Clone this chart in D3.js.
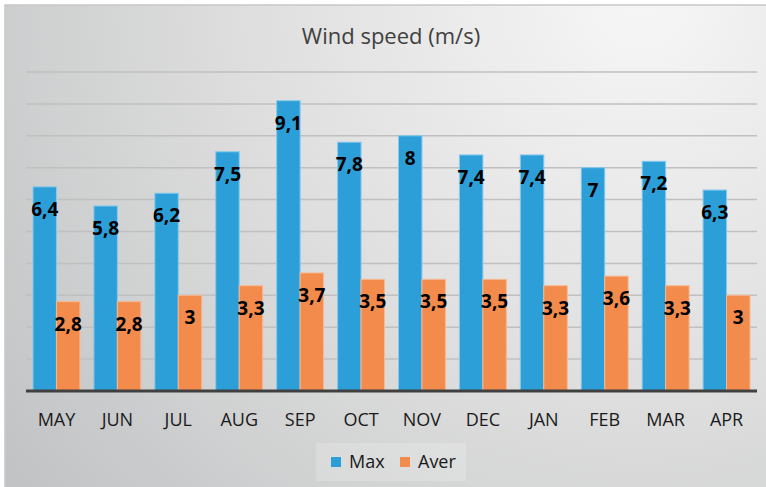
<!DOCTYPE html>
<html>
<head>
<meta charset="utf-8">
<script src="https://cdn.jsdelivr.net/npm/d3@7"></script>
<style>
    body { margin: 0; background: #ffffff; }
    text { font-family: "Open Sans", "DejaVu Sans", sans-serif; }
</style>
</head>
<body>
<div id="chart"></div>
<script>
const months = ["MAY", "JUN", "JUL", "AUG", "SEP", "OCT", "NOV", "DEC", "JAN", "FEB", "MAR", "APR"];
const maxValues = [6.4, 5.8, 6.2, 7.5, 9.1, 7.8, 8, 7.4, 7.4, 7, 7.2, 6.3];
const averValues = [2.8, 2.8, 3, 3.3, 3.7, 3.5, 3.5, 3.5, 3.3, 3.6, 3.3, 3];
const seriesNames = ["Max", "Aver"];
const gridTicks = [1, 2, 3, 4, 5, 6, 7, 8, 9, 10];

function drawChart() {
    const div_id = "#chart";

    //Width and height
    let width = 766;
    let height = 487;

    const colors = { "Max": "#2c9fd9", "Aver": "#f28b4b" };
    const borders = { "Max": "#86c9ec", "Aver": "#f7b892" };

    let fmt = function (v) {
        return String(v).replace(".", ",");
    }

    const svg = d3.select(div_id)
        .append("svg")
        .attr("width", width)
        .attr("height", height);

    // background gradient
    const defs = svg.append("defs");
    const grad = defs.append("radialGradient")
        .attr("id", "bg")
        .attr("gradientUnits", "userSpaceOnUse")
        .attr("cx", 640).attr("cy", 0).attr("r", 820);
    grad.append("stop").attr("offset", "0%").attr("stop-color", "#f6f6f6");
    grad.append("stop").attr("offset", "45%").attr("stop-color", "#e0e0e0");
    grad.append("stop").attr("offset", "100%").attr("stop-color", "#bfc1c2");

    svg.append("rect")
        .attr("x", 5).attr("y", 5)
        .attr("width", width).attr("height", height)
        .attr("fill", "url(#bg)")
        .attr("stroke", "#c8c8c8")
        .attr("stroke-width", 1.5);

    const x = d3.scaleBand()
        .domain(months)
        .range([26, 757])
        .paddingInner(0.23)
        .paddingOuter(0.115);

    const xSub = d3.scaleBand()
        .domain(seriesNames)
        .range([0, x.bandwidth()]);

    const y = d3.scaleLinear()
        .domain([0, 10])
        .range([391, 72]);

    // gridlines
    svg.append("g")
        .selectAll("line")
        .data(gridTicks)
        .join("line")
        .attr("x1", 26).attr("x2", 757)
        .attr("y1", d => y(d)).attr("y2", d => y(d))
        .attr("stroke", "#c0c0c0")
        .attr("stroke-width", 1.5);

    // title
    svg.append("text")
        .attr("x", 391)
        .attr("y", 44)
        .attr("text-anchor", "middle")
        .attr("font-size", 22)
        .attr("fill", "#404040")
        .text("Wind speed (m/s)");

    const rows = months.map((m, i) => ({
        month: m,
        values: [
            { key: "Max", value: maxValues[i] },
            { key: "Aver", value: averValues[i] }
        ]
    }));

    const groups = svg.append("g")
        .selectAll("g")
        .data(rows)
        .join("g")
        .attr("transform", d => "translate(" + x(d.month) + ",0)");

    groups.selectAll("rect")
        .data(d => d.values)
        .join("rect")
        .attr("x", d => xSub(d.key))
        .attr("y", d => y(d.value))
        .attr("width", xSub.bandwidth())
        .attr("height", d => y(0) - y(d.value))
        .attr("fill", d => colors[d.key])
        .attr("stroke", d => borders[d.key])
        .attr("stroke-width", 1);

    groups.selectAll("text")
        .data(d => d.values)
        .join("text")
        .attr("x", d => xSub(d.key) + xSub.bandwidth() / 2)
        .attr("y", d => y(d.value) + 29)
        .attr("text-anchor", "middle")
        .attr("font-size", 19)
        .attr("font-weight", "bold")
        .attr("fill", "#000000")
        .text(d => fmt(d.value));

    // x axis
    const xAxis = svg.append("g")
        .attr("transform", "translate(0," + y(0) + ")")
        .call(d3.axisBottom(x).tickSize(0).tickPadding(0));
    xAxis.select(".domain")
        .attr("d", "M26,0H757")
        .attr("stroke", "#404040")
        .attr("stroke-width", 3);
    xAxis.selectAll("text")
        .attr("y", 35)
        .attr("dy", 0)
        .attr("font-size", 18)
        .attr("font-family", "'Open Sans', sans-serif")
        .attr("fill", "#1a1a1a");

    // legend
    const legend = svg.append("g");
    legend.append("rect")
        .attr("x", 316).attr("y", 443)
        .attr("width", 150).attr("height", 38)
        .attr("fill", "#ffffff")
        .attr("fill-opacity", 0.18);

    const legendPos = { "Max": 331, "Aver": 400 };
    seriesNames.forEach(function (s) {
        legend.append("rect")
            .attr("x", legendPos[s]).attr("y", 457)
            .attr("width", 10).attr("height", 10)
            .attr("fill", colors[s]);
        legend.append("text")
            .attr("x", legendPos[s] + 18)
            .attr("y", 468)
            .attr("font-size", 18)
            .attr("fill", "#1a1a1a")
            .text(s);
    });
}

drawChart();
</script>
</body>
</html>
